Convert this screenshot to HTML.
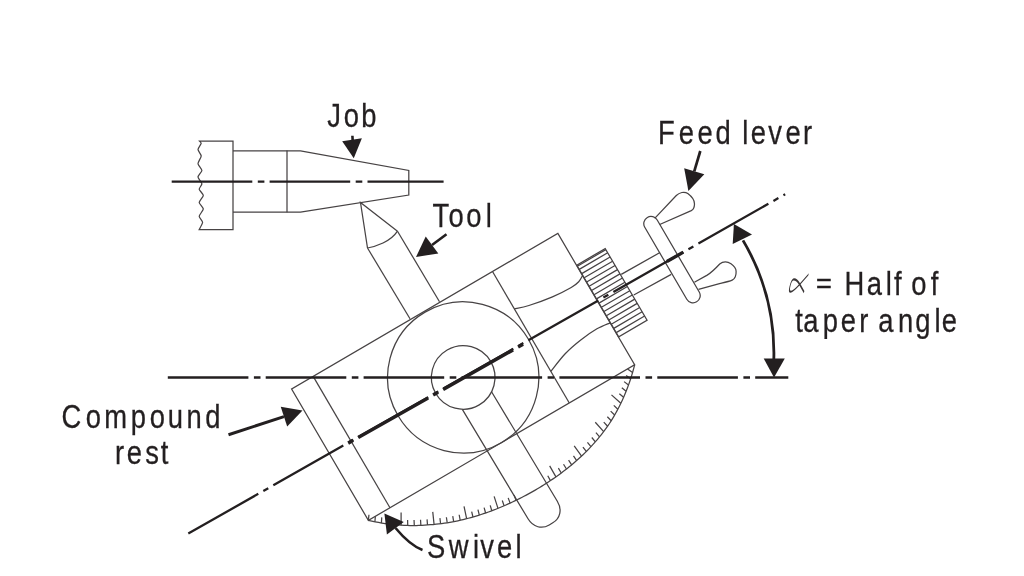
<!DOCTYPE html>
<html lang="en">
<head>
<meta charset="utf-8">
<title>Taper turning by swivelling the compound rest</title>
<style>
html,body{margin:0;padding:0;background:#fff;}
body{width:1024px;height:576px;overflow:hidden;}
svg{display:block;}
text{font-family:"Liberation Sans",sans-serif;fill:#231f20;stroke:#231f20;stroke-width:0.3px;}
g.labels{opacity:0.999;}
text.al{font-family:"DejaVu Sans",sans-serif;font-weight:200;stroke:none;fill:#3a3637;}
</style>
</head>
<body>
<svg xmlns="http://www.w3.org/2000/svg" width="1024" height="576" viewBox="0 0 1024 576">
<rect width="1024" height="576" fill="#ffffff"/>
<g fill="none" stroke="#474344" stroke-width="1.25" stroke-linejoin="miter" stroke-linecap="butt">
<path d="M233,141.1 L199.45,141.1 C199.62,141.33 201.34,142.55 201.2,143.4 C201.05,144.25 198,148.35 198,149.6 C198,150.85 201.2,154.49 201.2,155.9 C201.2,157.31 197.93,162.24 198,163.7 C198.07,165.16 201.9,169.18 201.9,170.5 C201.9,171.82 198,175.58 198,176.9 C198,178.22 201.78,182.47 201.9,183.7 C202.02,184.93 199.06,188.03 199.2,189.2 C199.34,190.37 203.3,194.08 203.3,195.4 C203.3,196.72 199.2,201.04 199.2,202.4 C199.2,203.76 203.3,207.62 203.3,209 C203.3,210.38 199.27,214.87 199.2,216.2 C199.13,217.53 202.6,220.97 202.6,222.3 C202.6,223.63 199.54,228.78 199.2,229.5 L233,229.5 Z"/>
<path d="M233,150.85 L300.5,150.85 L408.8,170.5 L408.8,195 L300.5,212.2 L233,212.2"/>
<path d="M287,150.5 L287,212.2"/>
<path d="M397.5,231.2 L360.5,202.5 L367.5,248"/>
<path d="M367.5,248 C373,247 378,245.3 383,243 C388.5,240.5 394,236.5 397.5,231.2"/>
<path d="M397.5,231.2 L439.5,301.8"/>
<path d="M367.5,248 L410,318.8"/>
<g transform="translate(463.2,377.4) rotate(-30.3)">
<path d="M-154.0,-76.6 H154.4 V75.6 H-154.0 Z"/>
<path d="M-129,-76.6 V75.6"/>
<path d="M78.7,-76.6 V75.6"/>
<circle cx="0" cy="0" r="75.6"/>
<circle cx="0" cy="0" r="31.8"/>
<path transform="rotate(-0.7)" d="M-17.25,27 V154.6 C-17.25,164.6 -10.75,170.8 -2.25,170.8 H1.9 C10.4,170.8 16.9,164.6 16.9,154.6 V26.6"/>
<path d="M78.7,-33.3 C81.08,-32.57 86.5,-30.37 93,-28.9 C99.5,-27.43 110.1,-25.47 117.7,-24.5 C125.3,-23.53 133.55,-23.13 138.6,-23.1 C143.65,-23.07 145.37,-23.53 148,-24.3 C150.63,-25.07 153.33,-27.13 154.4,-27.7"/>
<path d="M78.7,39 C82.25,37.67 93.12,33 100,31 C106.88,29 113.33,27.92 120,27 C126.67,26.08 134.27,25.5 140,25.5 C145.73,25.5 152,26.75 154.4,27"/>
<path d="M-154,75.6 L-151.43,77.98 L-148.86,80.29 L-146.29,82.52 L-143.72,84.68 L-141.15,86.77 L-138.58,88.78 L-136.01,90.74 L-133.44,92.62 L-130.87,94.44 L-128.3,96.2 L-125.73,97.9 L-123.16,99.54 L-120.59,101.12 L-118.02,102.65 L-115.45,104.12 L-112.88,105.53 L-110.31,106.9 L-107.74,108.21 L-105.17,109.48 L-102.6,110.7 L-100.03,111.93 L-97.46,113.11 L-94.89,114.26 L-92.32,115.35 L-89.75,116.41 L-87.18,117.43 L-84.61,118.4 L-82.04,119.34 L-79.47,120.24 L-76.9,121.11 L-74.33,121.94 L-71.76,122.73 L-69.19,123.49 L-66.62,124.22 L-64.05,124.91 L-61.48,125.58 L-58.91,126.21 L-56.34,126.81 L-53.77,127.39 L-51.2,127.93 L-48.63,128.45 L-46.06,128.94 L-43.49,129.41 L-40.92,129.85 L-38.35,130.26 L-35.78,130.65 L-33.21,131.01 L-30.64,131.35 L-28.07,131.66 L-25.5,131.95 L-22.93,132.22 L-20.36,132.46 L-17.79,132.68 L-15.22,132.88 L-12.65,133.05 L-10.08,133.2 L-7.51,133.33 L-4.94,133.44 L-2.37,133.52 L0.2,133.59 L2.77,133.63 L5.34,133.65 L7.91,133.64 L10.48,133.61 L13.05,133.56 L15.62,133.49 L18.19,133.39 L20.76,133.27 L23.33,133.13 L25.9,132.96 L28.47,132.76 L31.04,132.55 L33.61,132.3 L36.18,132.03 L38.75,131.74 L41.32,131.41 L43.89,131.06 L46.46,130.68 L49.03,130.28 L51.6,129.84 L54.17,129.37 L56.74,128.87 L59.31,128.34 L61.88,127.78 L64.45,127.19 L67.02,126.56 L69.59,125.89 L72.16,125.19 L74.73,124.46 L77.3,123.68 L79.87,122.87 L82.44,122.01 L85.01,121.12 L87.58,120.18 L90.15,119.2 L92.72,118.17 L95.29,117.1 L97.86,115.98 L100.43,114.82 L103,113.6 L105.57,112.29 L108.14,110.92 L110.71,109.5 L113.28,108.03 L115.85,106.5 L118.42,104.91 L120.99,103.26 L123.56,101.55 L126.13,99.77 L128.7,97.94 L131.27,96.03 L133.84,94.06 L136.41,92.01 L138.98,89.9 L141.55,87.71 L144.12,85.45 L146.69,83.11 L149.26,80.69 L151.83,78.18 L154.4,75.6"/>
<path d="M-154,75.6 l3.3,-4.52 M-149.07,80.11 l3.21,-4.59 M-144.05,84.4 l3.11,-4.66 M-138.89,88.55 l3.01,-4.72 M-133.65,92.47 l2.92,-4.78 M-128.17,96.29 l6.34,-10.89 M-122.62,99.88 l2.72,-4.9 M-116.99,103.24 l2.62,-4.95 M-111.21,106.43 l2.51,-5 M-105.27,109.43 l2.41,-5.05 M-99.34,112.25 l5.19,-11.48 M-93.32,114.93 l2.2,-5.15 M-87.15,117.44 l2.09,-5.19 M-80.99,119.72 l1.99,-5.24 M-74.66,121.83 l1.88,-5.28 M-68.34,123.73 l3.98,-11.95 M-62.02,125.44 l1.66,-5.35 M-55.54,127 l1.55,-5.38 M-49.07,128.37 l1.44,-5.41 M-42.59,129.56 l1.33,-5.44 M-36.04,130.61 l2.73,-12.3 M-29.48,131.49 l1.1,-5.49 M-22.93,132.22 l0.98,-5.51 M-16.38,132.79 l0.87,-5.53 M23.25,133.13 l0.17,-5.6 M29.88,132.65 l0.12,-12.6 M36.44,132 l-0.06,-5.6 M42.99,131.19 l-0.18,-5.6 M49.54,130.19 l-0.3,-5.59 M56.02,129.02 l-0.42,-5.58 M62.5,127.64 l-1.2,-12.54 M68.9,126.08 l-0.65,-5.56 M75.3,124.29 l-0.77,-5.55 M81.62,122.29 l-0.89,-5.53 M87.79,120.1 l-1.01,-5.51 M93.95,117.67 l-2.53,-12.34 M100.04,115 l-1.24,-5.46 M105.98,112.07 l-1.36,-5.43 M111.76,108.91 l-1.47,-5.4 M117.47,105.5 l-1.59,-5.37 M123.02,101.91 l-3.83,-12 M128.42,98.14 l-1.82,-5.3 M133.66,94.2 l-1.93,-5.26 M138.83,90.03 l-2.04,-5.21 M143.84,85.7 l-2.15,-5.17 M148.69,81.23 l-2.49,-5.63"/>
<path d="M154.7,-39.6 H187.6 V43.4 H154.7 Z"/>
<path d="M154.7,-34.72 H187.6 M154.7,-29.84 H187.6 M154.7,-24.95 H187.6 M154.7,-20.07 H187.6 M154.7,-15.19 H187.6 M154.7,-10.31 H187.6 M154.7,-5.42 H187.6 M154.7,-0.54 H187.6 M154.7,4.34 H187.6 M154.7,9.22 H187.6 M154.7,14.11 H187.6 M154.7,18.99 H187.6 M154.7,23.87 H187.6 M154.7,28.75 H187.6 M154.7,33.64 H187.6 M154.7,38.52 H187.6 M154.7,-38.4 H187.6"/>
<rect x="232.5" y="-45.2" width="14.4" height="97.7" rx="7.2" ry="7.2"/>
</g>
<path d="M621.25,274.4 L660,252.5 M633.75,295 L671.25,274.4"/>
<path d="M654.7,218.4 L676.3,195.5 C679.3,192.6 684.3,191 687.8,193.6 C691.8,196.6 694.6,200.3 694.5,204 C694.4,207.4 693.2,209.7 691.3,210.6 L659.7,224.5"/>
<path d="M694.4,282.2 L707.2,275.1 C712,272.2 716,268 719.7,264 C721.6,262.4 723.6,261.9 725.4,261.9 C727.6,261.9 729.4,262.7 731,263.8 C734,266 736.1,268.5 736.1,271.2 C736.2,273.3 736,275.2 735.3,276.7 C734.5,278.5 733.5,279.5 732.2,280.1 C729,281.5 725,282.3 720.4,283.3 L698.5,289.4"/>
</g>
<path d="M171.7,181.6 H443.6" stroke="#231f20" stroke-width="2.3" stroke-dasharray="80.6 5.5 6.6 5.2" fill="none"/>
<path d="M167.8,377.5 H788.3" stroke="#231f20" stroke-width="2.5" stroke-dasharray="80.6 5.5 6.6 5.2" fill="none"/>
<g transform="translate(188.3,533.6) rotate(-29.62)" stroke="#231f20" fill="none">
<path d="M0,0 H686.6" stroke-width="2.3" stroke-dasharray="80.5 5.8 5.7 5.8"/>
<path d="M550.5,0 H569.4" stroke-width="3.3"/>
</g>
<g transform="translate(188.3,533.6) rotate(-29.5)" stroke="#231f20" fill="none">
<path d="M183.7,0 H189.4 M195.2,0 H275.5 M281.3,0 H287 M292.8,0 H373.1 M378.9,0 H384.6" stroke-width="3.5"/>
</g>
<path d="M743,240.4 A221.5,221.5 0 0 1 773.8,360" stroke="#231f20" stroke-width="2.8" fill="none"/>
<path d="M774,377.4 L763.7,358.6 L784.8,358.6 Z" fill="#231f20"/>
<path d="M733.9,224 L732.7,244 L752,234.4 Z" fill="#231f20"/>
<path d="M352.4,135.8 L352.7,141" stroke="#231f20" stroke-width="2.6" fill="none"/><path d="M353.75,158.3 L342.2,141.3 L361.9,138.2 Z" fill="#231f20"/>
<path d="M446.5,234.2 L432.02,245.03" stroke="#231f20" stroke-width="2.6" fill="none"/><path d="M416,257 L425.73,236.62 L438.31,253.44 Z" fill="#231f20"/>
<path d="M700.3,151 L694.25,171.35" stroke="#231f20" stroke-width="2.7" fill="none"/><path d="M688.4,191 L684.18,168.36 L704.31,174.35 Z" fill="#231f20"/>
<path d="M228.5,434.75 L283.96,416.65" stroke="#231f20" stroke-width="3.0" fill="none"/><path d="M302.5,410.6 L287.19,426.54 L280.74,406.76 Z" fill="#231f20"/>
<path d="M422.5,550 C412,546 403,537 395.5,528" stroke="#231f20" stroke-width="2.6" fill="none"/>
<path d="M384.4,513.5 L403.75,521.9 L386.9,534.4 Z" fill="#231f20"/>
<g class="labels">
<text transform="scale(0.835,1)" x="391.95 411.69 432.64" y="127.3" font-size="32.8">Job</text>
<text transform="scale(0.835,1)" x="517.89 537.29 558.24 581.68" y="226.9" font-size="32.8">Tool</text>
<text transform="scale(0.835,1)" x="788.1 812.98 835.46 856.82 877.06 889.04 899.23 919.94 940.76 961.57" y="143.9" font-size="32.8">Feed lever</text>
<text class="al" transform="matrix(-0.377,1.487,-0.733,0.117,798.25,269.5)" x="0" y="0" font-size="30"><title>α</title>ɣ</text>
<text transform="scale(0.98,1)" x="832.74" y="292.7" font-size="27.6" style="stroke:#231f20;stroke-width:0.5px">=</text>
<text transform="scale(0.835,1)" x="1011.29 1038.09 1060.72 1070.52 1081.63 1091.42 1114.59" y="294.75" font-size="32.8">Half of</text>
<text transform="scale(0.835,1)" x="952.26 961.89 985.27 1006.78 1029.17 1042.09 1051.86 1075.47 1096.04 1119.25 1127.74" y="331.9" font-size="32.8">taper angle</text>
<text transform="scale(0.835,1)" x="73.79 102.56 124.77 156.74 179.5 200.99 223.25 245.74" y="427.7" font-size="32.8">Compound</text>
<text transform="scale(0.835,1)" x="137.82 151.69 174.03 192.53" y="464" font-size="32.8">rest</text>
<text transform="scale(0.835,1)" x="511.52 537.39 566.36 575.03 595.1 617.25" y="558.1" font-size="32.8">Swivel</text>
</g>
</svg>
</body>
</html>
